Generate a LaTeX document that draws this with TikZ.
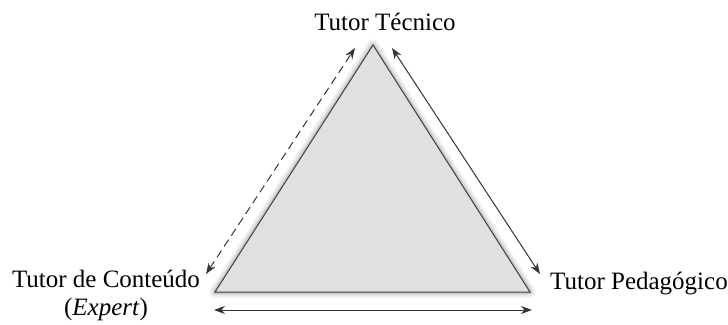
\documentclass[tikz,border=0pt]{standalone}
\usepackage{fontspec}
\setmainfont{Liberation Serif}
\usetikzlibrary{arrows.meta}
\tikzset{
  lbl/.style={inner sep=0pt, font=\fontsize{25}{28}\selectfont},
  conn/.style={line width=1pt, draw=black!80, {Stealth[length=11pt,width=8pt]}-{Stealth[length=11pt,width=8pt]}},
}
\begin{document}
\begin{tikzpicture}[x=1pt,y=-1pt]
\useasboundingbox (0,0) rectangle (728,324);
\coordinate (A) at (373,45);
\coordinate (B) at (215,292);
\coordinate (C) at (530,292);
% glow shadow
\foreach \w/\o in {12/0.03,9/0.05,6/0.06,3.5/0.09}{
  \draw[line width=\w pt, black, opacity=\o, line join=round] (A) -- (B) -- (C) -- cycle;
}
\fill[fill=white!88!black] (A) -- (B) -- (C) -- cycle;
\draw[line width=1pt, draw=black!75, line join=miter] (A) -- (B) -- (C) -- cycle;
% labels
\node[lbl] (tt) at (385,22) {Tutor Técnico};
\node[lbl, align=center] (tc) at (106,295) {Tutor de Conteúdo\\(\textit{Expert})};
\node[lbl, anchor=west] (tp) at (550,284) {Tutor Pedagógico};
% arrow endpoints
\coordinate (d1) at (206,274);
\coordinate (d2) at (355,48);
\coordinate (s1) at (392,48);
\coordinate (s2) at (540,274);
\coordinate (b1) at (214,310);
\coordinate (b2) at (532,310);
\draw[conn, dash pattern=on 8pt off 5pt] (d1) -- (d2);
\draw[conn] (s1) -- (s2);
\draw[conn] (b1) -- (b2);
\end{tikzpicture}
\end{document}
